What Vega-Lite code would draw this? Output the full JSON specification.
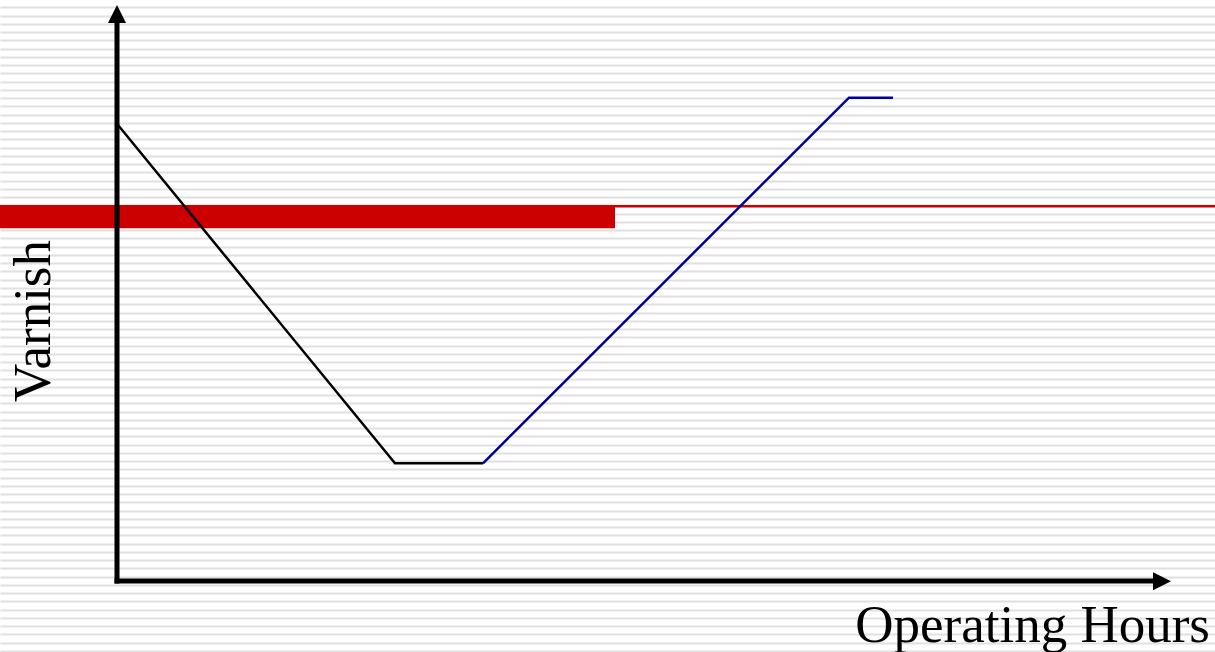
{
  "$schema": "https://vega.github.io/schema/vega-lite/v6.json",
  "width": 1215,
  "height": 652,
  "autosize": {"type": "none"},
  "padding": 0,
  "background": "white",
  "config": {"view": {"stroke": null}},
  "layer": [
    {
      "data": {"values": [{"x": -11.7, "x2": 49.8, "y": 54.04, "y2": 51.21}]},
      "mark": {"type": "rect", "color": "#cc0000"},
      "encoding": {
        "x": {"field": "x", "type": "quantitative", "scale": {"domain": [-11.7, 109.8], "nice": false, "zero": false}, "axis": null},
        "x2": {"field": "x2"},
        "y": {"field": "y", "type": "quantitative", "scale": {"domain": [-0.145, 78.885], "nice": false, "zero": false},
              "axis": {"grid": true, "gridColor": "#e0e0e0", "gridWidth": 2, "tickCount": 79, "labels": false, "ticks": false, "domain": false, "title": null}},
        "y2": {"field": "y2"}
      }
    },
    {
      "data": {"values": [{"x": -11.7, "x2": 109.8, "y": 53.88}]},
      "mark": {"type": "rule", "color": "#cc0000", "strokeWidth": 2.5},
      "encoding": {
        "x": {"field": "x", "type": "quantitative"},
        "x2": {"field": "x2"},
        "y": {"field": "y", "type": "quantitative"}
      }
    },
    {
      "data": {"values": [
        {"h": 0.1, "v": 63.73, "s": "black", "o": 1},
        {"h": 27.8, "v": 22.73, "s": "black", "o": 2},
        {"h": 36.6, "v": 22.73, "s": "black", "o": 3},
        {"h": 36.6, "v": 22.73, "s": "blue", "o": 1},
        {"h": 73.2, "v": 67.05, "s": "blue", "o": 2},
        {"h": 77.6, "v": 67.05, "s": "blue", "o": 3}
      ]},
      "mark": {"type": "line", "strokeWidth": 2.5},
      "encoding": {
        "x": {"field": "h", "type": "quantitative"},
        "y": {"field": "v", "type": "quantitative"},
        "order": {"field": "o", "type": "quantitative"},
        "color": {"field": "s", "type": "nominal", "scale": {"domain": ["black", "blue"], "range": ["#000000", "#000099"]}, "legend": null}
      }
    },
    {
      "data": {"values": [
        {"x": 0, "y": 8.45, "x2": 0, "y2": 76.1},
        {"x": 0, "y": 8.45, "x2": 103.6, "y2": 8.45}
      ]},
      "mark": {"type": "rule", "color": "#000000", "strokeWidth": 5, "strokeCap": "square"},
      "encoding": {
        "x": {"field": "x", "type": "quantitative"},
        "x2": {"field": "x2"},
        "y": {"field": "y", "type": "quantitative"},
        "y2": {"field": "y2"}
      }
    },
    {
      "data": {"values": [
        {"x": 0, "y": 77.19, "dir": "up"},
        {"x": 104.5, "y": 8.42, "dir": "right"}
      ]},
      "mark": {"type": "point", "filled": true, "color": "#000000", "opacity": 1, "size": 324, "strokeWidth": 0},
      "encoding": {
        "x": {"field": "x", "type": "quantitative"},
        "y": {"field": "y", "type": "quantitative"},
        "shape": {"field": "dir", "type": "nominal", "scale": {"domain": ["up", "right"], "range": ["M0,-1L1,1L-1,1Z", "M1,0L-1,1L-1,-1Z"]}, "legend": null}
      }
    },
    {
      "data": {"values": [{"x": 109.3, "y": 1.1, "label": "Operating Hours"}]},
      "mark": {"type": "text", "font": "Liberation Serif", "fontSize": 53, "align": "right", "baseline": "alphabetic", "color": "#000000"},
      "encoding": {
        "x": {"field": "x", "type": "quantitative"},
        "y": {"field": "y", "type": "quantitative"},
        "text": {"field": "label"}
      }
    },
    {
      "data": {"values": [{"x": -6.7, "y": 39.98, "label": "Varnish"}]},
      "mark": {"type": "text", "font": "Liberation Serif", "fontSize": 53, "align": "center", "baseline": "alphabetic", "angle": 270, "color": "#000000"},
      "encoding": {
        "x": {"field": "x", "type": "quantitative"},
        "y": {"field": "y", "type": "quantitative"},
        "text": {"field": "label"}
      }
    }
  ]
}
